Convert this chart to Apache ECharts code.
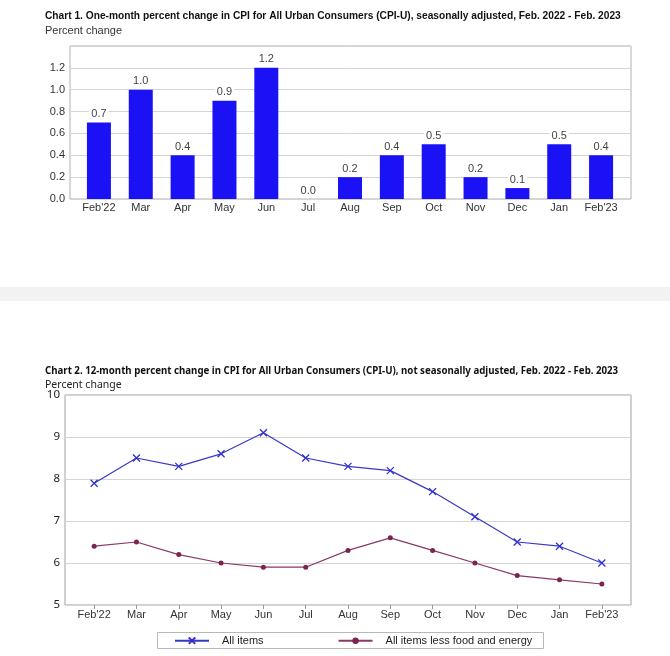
<!DOCTYPE html>
<html>
<head>
<meta charset="utf-8">
<script src="https://cdn.jsdelivr.net/npm/echarts@6/dist/echarts.min.js"></script>
<style>
html,body{margin:0;padding:0;background:#fff;}
#c{width:670px;height:656px;}
</style>
</head>
<body>
<div id="c"></div>
<script>
// ---- data ----
var months = ["Feb'22","Mar","Apr","May","Jun","Jul","Aug","Sep","Oct","Nov","Dec","Jan","Feb'23"];
var monthlyChange = [0.7, 1.0, 0.4, 0.9, 1.2, 0.0, 0.2, 0.4, 0.5, 0.2, 0.1, 0.5, 0.4];
var allItems = [7.9, 8.5, 8.3, 8.6, 9.1, 8.5, 8.3, 8.2, 7.7, 7.1, 6.5, 6.4, 6.0];
var coreItems = [6.4, 6.5, 6.2, 6.0, 5.9, 5.9, 6.3, 6.6, 6.3, 6.0, 5.7, 5.6, 5.5];
var title1 = "Chart 1. One-month percent change in CPI for All Urban Consumers (CPI-U), seasonally adjusted, Feb. 2022 - Feb. 2023";
var title2 = "Chart 2. 12-month percent change in CPI for All Urban Consumers (CPI-U), not seasonally adjusted, Feb. 2022 - Feb. 2023";
var yLabel = "Percent change";
var seriesNames = ["All items", "All items less food and energy"];

var chart = echarts.init(document.getElementById('c'), null, {renderer:'canvas'});
var arial = "'Liberation Sans', Arial, sans-serif";
var noto = "'Noto Sans', 'Open Sans', sans-serif";

var option = {
  backgroundColor: '#fff',
  animation: false,
  title: [
    {text: title1, left: 45, top: 11, padding: 0,
     textStyle: {fontFamily: arial, fontSize: 10.2, fontWeight: 'bold', color: '#111'}},
    {text: yLabel, left: 45, top: 25, padding: 0,
     textStyle: {fontFamily: arial, fontSize: 11, fontWeight: 'normal', color: '#333'}},
    {text: title2, left: 45, top: 366, padding: 0,
     textStyle: {fontFamily: noto, fontSize: 9.7, fontWeight: 'bold', color: '#111'}},
    {text: yLabel, left: 45, top: 380, padding: 0,
     textStyle: {fontFamily: noto, fontSize: 10.5, fontWeight: 'normal', color: '#222'}}
  ],
  graphic: [
    {type: 'rect', shape: {x: 0, y: 287, width: 670, height: 14}, style: {fill: '#f2f2f2'}, silent: true},
    {type: 'rect', shape: {x: 157.5, y: 632.5, width: 386, height: 16}, style: {fill: 'none', stroke: '#b8b8b8', lineWidth: 1}, silent: true}
  ],
  legend: {
    left: 174, top: 635, padding: 0, itemGap: 74,
    itemWidth: 34, itemHeight: 8,
    textStyle: {fontFamily: arial, fontSize: 11, color: '#222', padding: [0,0,0,8]},
    data: seriesNames
  },
  grid: [
    {left: 70, top: 46, width: 561, height: 153, show: true, borderColor: '#b0b0b0', borderWidth: 1, containLabel: false},
    {left: 78, top: 46, width: 544, height: 153, containLabel: false},
    {left: 65, top: 395, width: 566, height: 210, show: true, borderColor: '#a0a0a0', borderWidth: 1, containLabel: false},
    {left: 73, top: 395, width: 550, height: 210, containLabel: false}
  ],
  xAxis: [
    {gridIndex: 0, type: 'value', show: false, min: 0, max: 1},
    {gridIndex: 1, type: 'category', data: months, boundaryGap: true,
     axisLine: {show: false}, axisTick: {show: false},
     axisLabel: {margin: 3, fontFamily: arial, fontSize: 11, color: '#333', interval: 0}},
    {gridIndex: 2, type: 'value', show: false, min: 0, max: 1},
    {gridIndex: 3, type: 'category', data: months, boundaryGap: true,
     axisLine: {show: false},
     axisTick: {show: true, alignWithLabel: true, length: 4, lineStyle: {color: '#999'}},
     axisLabel: {margin: 4, fontFamily: arial, fontSize: 11, color: '#333', interval: 0}}
  ],
  yAxis: [
    {gridIndex: 0, type: 'value', min: 0, max: 1.4, interval: 0.2,
     axisLine: {show: false}, axisTick: {show: false},
     splitLine: {show: true, lineStyle: {color: '#d4d4d4', width: 1}},
     axisLabel: {margin: 5, fontFamily: arial, fontSize: 11, color: '#333', showMaxLabel: false,
       formatter: function (v) { return v.toFixed(1); }}},
    {gridIndex: 1, type: 'value', min: 0, max: 1.4, interval: 0.2, show: false, splitLine: {show: false}},
    {gridIndex: 2, type: 'value', min: 5, max: 10, interval: 1,
     axisLine: {show: false}, axisTick: {show: false},
     splitLine: {show: true, lineStyle: {color: '#d4d4d4', width: 1}},
     axisLabel: {margin: 5, fontFamily: noto, fontSize: 11.5, color: '#222', showMaxLabel: true}},
    {gridIndex: 3, type: 'value', min: 5, max: 10, interval: 1, show: false, splitLine: {show: false}}
  ],
  series: [
    {type: 'bar', xAxisIndex: 1, yAxisIndex: 1, data: monthlyChange, barWidth: 24,
     itemStyle: {color: '#1a12f5', borderWidth: 0},
     label: {show: true, position: 'top', distance: 3, fontFamily: arial, fontSize: 11, color: '#444',
       backgroundColor: '#fff', padding: [1, 2, 0, 2],
       formatter: function (p) { return p.value.toFixed(1); }}},
    {name: seriesNames[0], type: 'line', xAxisIndex: 3, yAxisIndex: 3, data: allItems,
     symbol: 'path://M0,0 L10,10 M10,0 L0,10', symbolSize: 7, showSymbol: true,
     lineStyle: {color: '#3838c8', width: 1.2},
     itemStyle: {color: 'none', borderColor: '#3030d0', borderWidth: 1.3}},
    {name: seriesNames[1], type: 'line', xAxisIndex: 3, yAxisIndex: 3, data: coreItems,
     symbol: 'circle', symbolSize: 5, showSymbol: true,
     lineStyle: {color: '#8a3866', width: 1.2},
     itemStyle: {color: '#7a2452', borderWidth: 0}}
  ]
};
chart.setOption(option);
</script>
</body>
</html>
